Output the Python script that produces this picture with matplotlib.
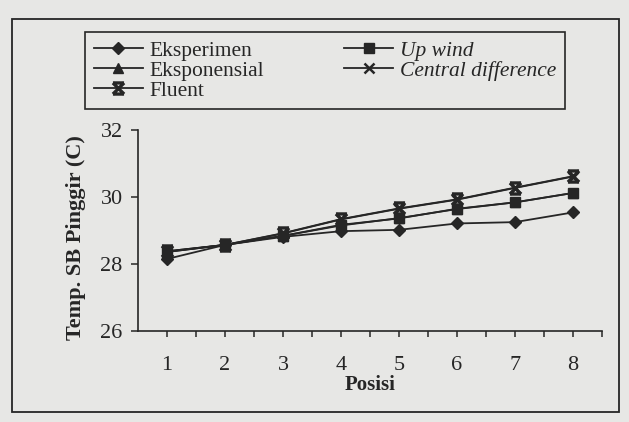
import matplotlib
matplotlib.use("Agg")
import matplotlib.pyplot as plt
from matplotlib.path import Path
from matplotlib.patches import Rectangle

# ---- data ----
posisi = [1, 2, 3, 4, 5, 6, 7, 8]
eksperimen = [28.15, 28.57, 28.81, 28.98, 29.02, 29.21, 29.25, 29.54]
eksponensial = [28.36, 28.57, 28.84, 29.15, 29.37, 29.64, 29.84, 30.12]
fluent = [28.38, 28.57, 28.92, 29.34, 29.66, 29.93, 30.28, 30.62]
up_wind = [28.36, 28.57, 28.84, 29.17, 29.36, 29.65, 29.84, 30.12]
central_difference = [28.38, 28.57, 28.91, 29.33, 29.65, 29.92, 30.27, 30.61]
y_ticks = [26, 28, 30, 32]
x_ticklabels = ["1", "2", "3", "4", "5", "6", "7", "8"]

BG = "#e7e7e5"
INK = "#262626"
SERIF = ["Liberation Serif", "DejaVu Serif"]

plt.rcParams["font.family"] = SERIF

fig = plt.figure(figsize=(6.29, 4.22), dpi=100, facecolor=BG)
W, H = 629, 422

# outer frame
fig.patches.append(Rectangle((12 / W, 1 - 412 / H), (619 - 12) / W, (412 - 19) / H,
                             transform=fig.transFigure, fill=False,
                             edgecolor=INK, linewidth=1.3))

ax = fig.add_axes([138 / W, 1 - 331 / H, (602 - 138) / W, (331 - 130) / H])
ax.set_facecolor(BG)
ax.patch.set_alpha(0)

hour = Path([(-1, 1), (1, -1), (-1, -1), (1, 1), (-1, 1), (1, 1), (-1, -1), (1, -1)],
            [Path.MOVETO, Path.LINETO, Path.MOVETO, Path.LINETO,
             Path.MOVETO, Path.LINETO, Path.MOVETO, Path.LINETO])

lw = 1.3
kw = dict(color=INK, linewidth=lw)
h_tri, = ax.plot(posisi, eksponensial, marker="^", markersize=7.5, **kw)
h_sq, = ax.plot(posisi, up_wind, marker="s", markersize=7.5, **kw)
h_cd, = ax.plot(posisi, central_difference, marker="x", markersize=7, markeredgewidth=1.8, **kw)
h_fl, = ax.plot(posisi, fluent, marker=hour, markersize=8, markeredgewidth=2.4, **kw)
h_ek, = ax.plot(posisi, eksperimen, marker="D", markersize=6.5, **kw)

ax.set_xlim(0.5, 8.5)
ax.set_ylim(26, 32)
ax.set_yticks(y_ticks)
ax.set_xticks(posisi)
ax.set_xticklabels(x_ticklabels)
ax.set_xticks([p + 0.5 for p in posisi], minor=True)
for s in ["top", "right"]:
    ax.spines[s].set_visible(False)
for s in ["left", "bottom"]:
    ax.spines[s].set_color(INK)
    ax.spines[s].set_linewidth(1.2)
ax.tick_params(axis="x", which="both", direction="out", length=4, width=1.1,
               color=INK, labelsize=16, labelcolor=INK, pad=14)
ax.tick_params(axis="y", direction="out", length=5, width=1.1, color=INK,
               labelsize=16, labelcolor=INK, pad=6)

ax.set_xlabel("Posisi", fontsize=15, fontweight="bold", color=INK, labelpad=0)
ax.set_ylabel("Temp. SB Pinggir (C)", fontsize=16, fontweight="bold", color=INK)
ax.yaxis.set_label_coords(-0.112, 0.465)

handles = [h_ek, h_tri, h_fl, h_sq, h_cd]
labels = ["Eksperimen", "Eksponensial", "Fluent", "Up wind", "Central difference"]
leg = fig.legend(handles, labels, loc="upper left", bbox_to_anchor=(85 / W, 1 - 32 / H),
                 ncol=2, frameon=True, fancybox=False, edgecolor=INK, facecolor=BG,
                 framealpha=1, prop={"family": SERIF, "size": 15.5},
                 handlelength=2.3, handletextpad=0.3, columnspacing=3.7,
                 labelspacing=0.0, borderpad=0.4, borderaxespad=0)
leg.get_frame().set_linewidth(1.2)
for t in leg.get_texts()[3:]:
    t.set_fontstyle("italic")
for t in leg.get_texts():
    t.set_color(INK)

fig.savefig("out.png", dpi=100, facecolor=BG)
